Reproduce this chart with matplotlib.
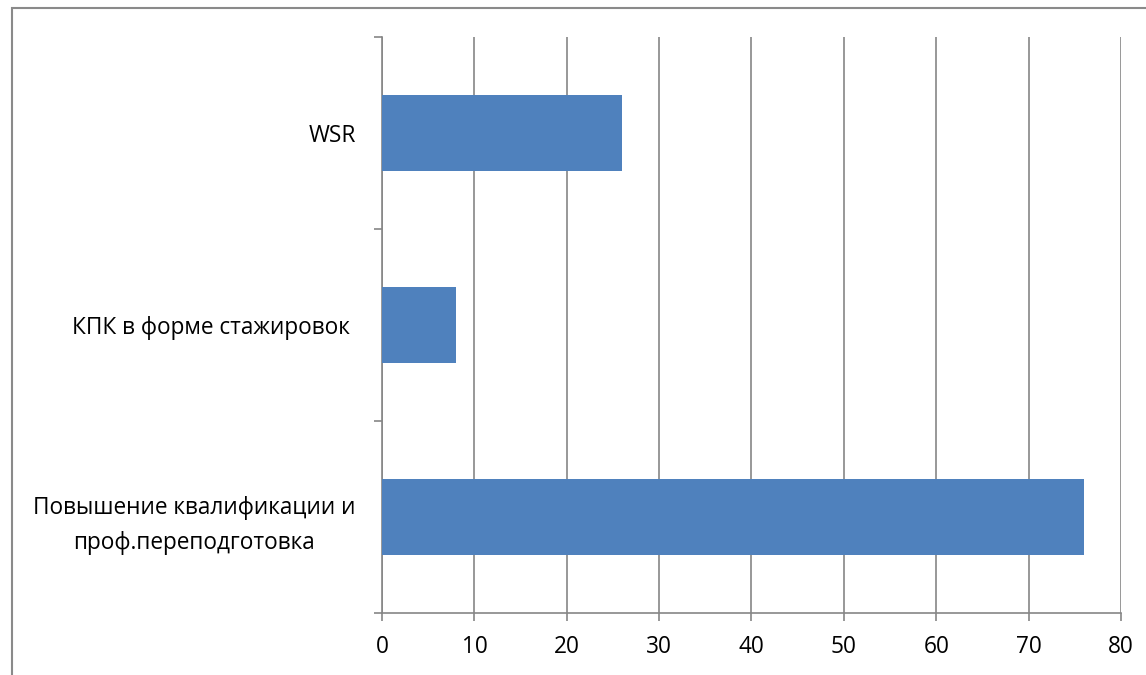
import matplotlib.pyplot as plt
from matplotlib.patches import Rectangle

categories = ["Повышение квалификации и\nпроф.переподготовка", "КПК в форме стажировок ", "WSR"]
values = [76, 8, 26]
x_ticks = [0, 10, 20, 30, 40, 50, 60, 70, 80]

plt.rcParams["font.family"] = ["Open Sans", "DejaVu Sans"]

fig = plt.figure(figsize=(11.46, 6.75), dpi=100)
ax = fig.add_axes([382 / 1146, 1 - 613 / 675, (1121 - 382) / 1146, (613 - 37) / 675])

grey = "#868686"
ax.barh(range(len(categories)), values, height=0.4, color="#4f81bd", zorder=3)

ax.set_xlim(0, 80)
ax.set_ylim(-0.5, len(categories) - 0.5)
ax.set_xticks(x_ticks)
ax.set_xticklabels([str(t) for t in x_ticks], fontsize=16.3)
ax.grid(axis="x", color=grey, linewidth=1.2, zorder=0)

# category ticks sit between categories, labels in the middle
ax.set_yticks([i - 0.5 for i in range(len(categories) + 1)])
ax.set_yticklabels([])
ax.set_yticks(range(len(categories)), minor=True)
ax.set_yticklabels(categories, minor=True, fontsize=16.3, multialignment="center",
                   linespacing=1.6)
ax.tick_params(axis="y", which="minor", length=0, pad=19)
ax.tick_params(axis="y", which="major", length=6, width=1.2, color=grey)
ax.tick_params(axis="x", length=6, width=1.2, color=grey, pad=10)

for side in ["top", "right"]:
    ax.spines[side].set_visible(False)
for side in ["left", "bottom"]:
    ax.spines[side].set_color(grey)
    ax.spines[side].set_linewidth(1.2)

# chart border, cut off at right and bottom like the original
fig.patches.append(Rectangle((12 / 1146, -0.1), 1.2, 1 - 8 / 675 + 0.1,
                             transform=fig.transFigure, fill=False,
                             edgecolor="#8a8a8a", linewidth=1.5))

fig.savefig("out.png", dpi=100)
